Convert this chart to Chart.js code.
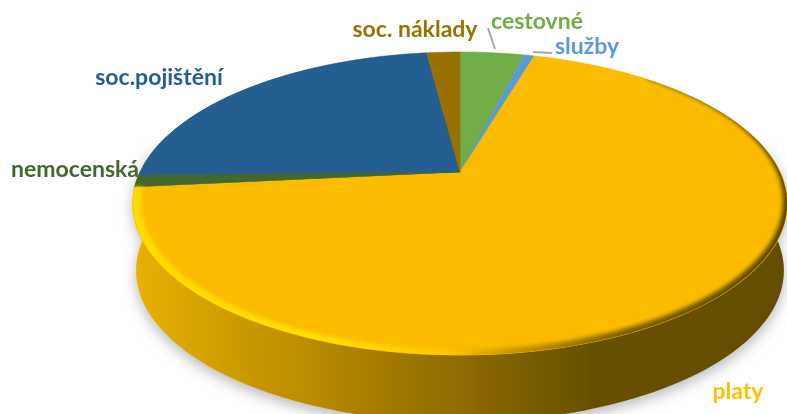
<!DOCTYPE html>
<html>
<head>
<meta charset="utf-8">
<script src="https://cdn.jsdelivr.net/npm/chart.js@4"></script>
<style>
  html, body { margin: 0; padding: 0; background: #fff; overflow: hidden; }
  canvas { display: block; }
</style>
</head>
<body>
<canvas id="pie-chart" width="787" height="414"></canvas>
<script>
// Values (share of 100 %), clockwise from 12 o'clock
const categories = ["cestovné", "služby", "platy", "nemocenská", "soc.pojištění", "soc. náklady"];
const shares = [3.9, 0.6, 68.9, 1.3, 23.3, 2.0];
const sliceColors = ["#70ad47", "#5b9bd5", "#fbbc00", "#43682b", "#255e91", "#997000"];
const labelColors = ["#70ad47", "#5b9bd5", "#ffc000", "#43682b", "#255e91", "#997300"];

// Where the labels sit on the page
const labelAt = [[537, 22], [587, 47], [738, 392], [75, 170], [159, 78], [415, 30]];
const leaders = [[[488, 28], [495, 49]], [[533, 52], [552, 53]]];

// Tilted view of the disc
const view = { cx: 460, cy: 172, A: 145, B: 320, p: 0.208, depth: 67 };

function project(deg, r) {
  const t = deg * Math.PI / 180;
  const u = r * Math.sin(t), v = r * Math.cos(t);
  const w = 1 + view.p * v;
  return [view.cx + view.B * u / w, view.cy - view.A * v / w];
}

function lower(pt) {
  return [view.cx + (pt[0] - view.cx) * 0.99, pt[1] + view.depth];
}

function drawSide(ctx) {
  const g = ctx.createLinearGradient(133, 0, 787, 0);
  g.addColorStop(0, "#e8b200");
  g.addColorStop(0.25, "#bd8e00");
  g.addColorStop(0.5, "#8f6b00");
  g.addColorStop(0.7, "#665000");
  g.addColorStop(1, "#664d00");
  ctx.save();
  ctx.beginPath();
  for (let d = 0; d <= 360; d += 2) {
    const q = lower(project(d, 1));
    d === 0 ? ctx.moveTo(q[0], q[1]) : ctx.lineTo(q[0], q[1]);
  }
  ctx.closePath();
  // wall between the two outlines, same winding as the disc
  for (let d = 78; d <= 282; d += 2) {
    const q = lower(project(d, 1));
    d === 78 ? ctx.moveTo(q[0], q[1]) : ctx.lineTo(q[0], q[1]);
  }
  for (let d = 282; d >= 78; d -= 2) {
    const q = project(d, 1);
    ctx.lineTo(q[0], q[1]);
  }
  ctx.closePath();
  ctx.shadowColor = "rgba(0,0,0,0.28)";
  ctx.shadowBlur = 14;
  ctx.shadowOffsetY = 5;
  ctx.fillStyle = g;
  ctx.fill("nonzero");
  ctx.restore();
}

// Squash the round pie into perspective, one pixel row at a time
function drawFace(chart, meta) {
  const ctx = chart.ctx, arc = meta.data[0], R = arc.outerRadius;
  const top = Math.floor(view.cy - view.A / (1 + view.p)) - 1;
  const bottom = Math.ceil(view.cy + view.A / (1 - view.p)) + 1;
  for (let y = top; y < bottom; y++) {
    const d = view.cy - (y + 0.5);
    const den = view.A - view.p * d;
    const v = d / den;
    const k = view.B / (1 + view.p * v) / R;
    const tt = den * den / (view.A * R);
    const sy0 = arc.y - v * R;
    ctx.save();
    ctx.beginPath();
    ctx.rect(0, y, chart.width, 1);
    ctx.clip();
    ctx.setTransform(k, 0, 0, tt, view.cx - k * arc.x, y + 0.5 - tt * sy0);
    meta.controller.draw();
    ctx.restore();
  }
}

// width of the rounded rim, narrow at the back right, full along the front
function rimWidth(d) {
  if (d < 100) return 0.012 * (d - 42) / 58;
  if (d < 160) return 0.012 + 0.012 * (d - 100) / 60;
  return 0.024;
}

function drawBevel(ctx) {
  const g = ctx.createLinearGradient(133, 0, 787, 0);
  g.addColorStop(0, "#ffdc00");
  g.addColorStop(0.3, "#ffe200");
  g.addColorStop(0.48, "#ffc800");
  g.addColorStop(0.58, "#c89400");
  g.addColorStop(0.75, "#7a5e00");
  g.addColorStop(1, "#5c4600");
  ctx.save();
  ctx.beginPath();
  for (let d = 0; d <= 360; d += 2) {
    const q = project(d, 1);
    d === 0 ? ctx.moveTo(q[0], q[1]) : ctx.lineTo(q[0], q[1]);
  }
  ctx.closePath();
  ctx.clip();
  ctx.filter = "blur(2px)";
  ctx.beginPath();
  const from = 42, to = 264;
  for (let d = from; d <= to; d += 2) {
    const q = project(d, 1.02);
    d === from ? ctx.moveTo(q[0], q[1]) : ctx.lineTo(q[0], q[1]);
  }
  for (let d = to; d >= from; d -= 2) {
    const q = project(d, 1 - rimWidth(d));
    ctx.lineTo(q[0], q[1]);
  }
  ctx.closePath();
  ctx.fillStyle = g;
  ctx.fill();
  ctx.restore();
}

function drawLabels(ctx) {
  ctx.save();
  ctx.strokeStyle = "#a6a6a6";
  ctx.lineWidth = 2;
  leaders.forEach(function (l) {
    ctx.beginPath();
    ctx.moveTo(l[0][0], l[0][1]);
    ctx.lineTo(l[1][0], l[1][1]);
    ctx.stroke();
  });
  ctx.font = "bold 23px Lato";
  ctx.textAlign = "center";
  ctx.textBaseline = "middle";
  categories.forEach(function (name, i) {
    ctx.fillStyle = labelColors[i];
    ctx.fillText(name, labelAt[i][0], labelAt[i][1]);
  });
  ctx.restore();
}

const tiltedPie = {
  id: "tiltedPie",
  beforeDatasetsDraw: function (chart) {
    const meta = chart.getDatasetMeta(0);
    drawSide(chart.ctx);
    drawFace(chart, meta);
    drawBevel(chart.ctx);
    drawLabels(chart.ctx);
    return false;
  }
};

new Chart(document.getElementById("pie-chart"), {
  type: 'pie',
  data: {
    labels: categories,
    datasets: [{
      data: shares,
      backgroundColor: sliceColors,
      borderColor: sliceColors,
      borderWidth: 1
    }]
  },
  plugins: [tiltedPie],
  options: {
    responsive: false,
    animation: false,
    radius: 320,
    plugins: {
      legend: { display: false },
      tooltip: { enabled: false }
    }
  }
});
</script>
</body>
</html>
